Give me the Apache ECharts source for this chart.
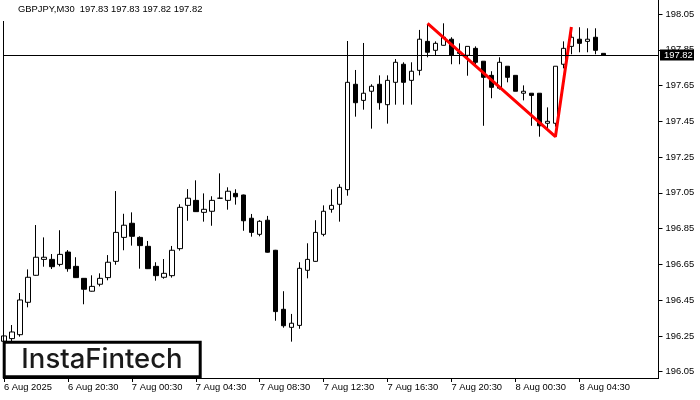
<!DOCTYPE html>
<html><head><meta charset="utf-8">
<script src="https://cdn.jsdelivr.net/npm/echarts@6/dist/echarts.min.js"></script>
<style>html,body{margin:0;padding:0;background:#fff}#c{width:700px;height:400px}</style>
</head><body><div id="c"></div>
<script>
const symbolTitle = 'GBPJPY,M30  197.83 197.83 197.82 197.82';
const tickLabels = ['6 Aug 2025','6 Aug 20:30','7 Aug 00:30','7 Aug 04:30','7 Aug 08:30','7 Aug 12:30','7 Aug 16:30','7 Aug 20:30','8 Aug 00:30','8 Aug 04:30'];
const yTicks = {min:196.05, max:198.05, step:0.2};
const lastPrice = 197.82;

const opens = [196.22,196.235,196.257,196.438,196.589,196.678,196.678,196.650,196.719,196.639,
196.572,196.500,196.539,196.576,196.667,196.801,196.880,196.801,196.751,196.639,
196.578,196.587,196.738,196.980,197.008,196.941,196.947,197.020,197.008,197.047,
197.038,196.908,196.818,196.897,196.729,196.399,196.298,196.309,196.617,196.667,
196.818,196.958,196.986,197.068,197.657,197.567,197.618,197.657,197.543,197.668,
197.769,197.679,197.735,197.897,197.847,197.875,197.909,197.836,197.819,197.858,
197.786,197.707,197.635,197.758,197.707,197.607,197.607,197.607,197.439,197.439,
197.769,197.869,197.909,197.897,197.920,197.83];
const highs = [196.373,196.311,196.490,196.622,196.870,196.801,196.708,196.841,196.730,196.690,
196.573,196.589,196.600,196.702,197.060,196.933,196.941,196.807,196.781,196.662,
196.680,196.753,196.986,197.071,197.120,197.047,197.031,197.159,197.081,197.070,
197.040,196.932,196.897,196.921,196.731,196.500,196.373,196.662,196.768,196.897,
196.980,197.070,197.098,197.899,197.737,197.888,197.657,197.707,197.707,197.798,
197.780,197.780,197.961,197.992,197.897,197.998,197.920,197.886,197.869,197.869,
197.786,197.730,197.808,197.758,197.707,197.651,197.607,197.607,197.528,197.758,
197.897,197.970,197.976,197.970,197.970,197.83];
const lows = [196.20,196.21,196.246,196.410,196.587,196.637,196.624,196.639,196.609,196.574,
196.427,196.498,196.527,196.561,196.648,196.729,196.755,196.626,196.624,196.559,
196.570,196.576,196.727,196.894,196.943,196.889,196.866,197.018,196.956,196.984,
196.838,196.805,196.807,196.716,196.335,196.296,196.218,196.290,196.572,196.665,
196.807,196.939,196.889,197.034,197.476,197.515,197.409,197.515,197.437,197.543,
197.543,197.543,197.707,197.808,197.819,197.874,197.769,197.769,197.705,197.769,
197.425,197.579,197.627,197.668,197.618,197.567,197.425,197.364,197.411,197.420,
197.746,197.825,197.836,197.836,197.825,197.82];
const closes = [196.25,196.272,196.451,196.578,196.690,196.690,196.637,196.706,196.626,196.576,
196.511,196.527,196.572,196.662,196.829,196.869,196.807,196.755,196.626,196.587,
196.600,196.729,196.969,197.020,196.945,196.958,197.008,197.020,197.059,197.028,
196.894,196.829,196.891,196.718,196.386,196.307,196.321,196.628,196.678,196.829,
196.947,196.980,197.081,197.668,197.554,197.607,197.646,197.554,197.679,197.780,
197.668,197.730,197.909,197.836,197.886,197.920,197.819,197.830,197.869,197.780,
197.696,197.640,197.780,197.696,197.618,197.618,197.595,197.425,197.450,197.758,
197.858,197.920,197.886,197.909,197.847,197.82];
// hand-drawn red pattern line: [bar index, price]
const patternLine = [[53,197.998],[69,197.364],[71,197.977]];

const nBars = opens.length;
const padBars = 6;
const days = ['6','7','8'];
const categories = [];
for (let i = 0; i < nBars + padBars; i++) {
  if (i >= nBars) { categories.push(''); continue; }
  const mins = (16*60+30) + i*30;
  const d = Math.floor(mins/1440), m = mins % 1440;
  const hh = String(Math.floor(m/60)).padStart(2,'0'), mm = String(m%60).padStart(2,'0');
  categories.push(days[d] + ' Aug ' + hh + ':' + mm);
}
const candleData = opens.map((o,i)=>[o, closes[i], lows[i], highs[i]]);

const FONT = '"Liberation Sans",Arial,sans-serif';
const FS = 9.4;
const chart = echarts.init(document.getElementById('c'), null, {renderer:'canvas'});
const showTick = (idx) => idx % 8 === 0 && idx/8 < tickLabels.length;
chart.setOption({
  animation:false,
  backgroundColor:'#ffffff',
  grid:{left:-0.7, top:14, width:656, height:357.7, containLabel:false},
  xAxis:{type:'category', data:categories, boundaryGap:true, offset:6.3,
    axisLine:{show:false},
    axisTick:{show:true, alignWithLabel:true, interval:(i)=>showTick(i), length:4, lineStyle:{color:'#000'}},
    axisLabel:{interval:(i)=>showTick(i), formatter:(v,i)=>tickLabels[i/8], align:'left', margin:5,
      color:'#000', fontSize:FS, fontFamily:FONT},
    splitLine:{show:false}},
  yAxis:{type:'value', position:'right', min:yTicks.min, max:yTicks.max, interval:yTicks.step, offset:3.2,
    axisLine:{show:false},
    axisTick:{show:true, length:4, lineStyle:{color:'#000'}},
    axisLabel:{formatter:(v)=>v.toFixed(2), margin:7, color:'#000', fontSize:FS, fontFamily:FONT},
    splitLine:{show:false}},
  series:[
    {type:'candlestick', data:candleData, barWidth:5,
     itemStyle:{color:'#ffffff', color0:'#000000', borderColor:'#000000', borderColor0:'#000000', borderWidth:1}},
    {type:'line', data:patternLine, symbol:'none', lineStyle:{color:'#ff0000', width:3}, z:5}
  ]
});
const py = Math.round(chart.convertToPixel({yAxisIndex:0}, lastPrice)) + 0.5;
chart.setOption({graphic:[
  {type:'text', left:18, top:5, z:100, style:{text:symbolTitle, font:FS+'px '+FONT, fill:'#000'}},
  {type:'line', z:100, shape:{x1:3.5,y1:21,x2:3.5,y2:378}, style:{stroke:'#000', lineWidth:1}},
  {type:'line', z:100, shape:{x1:658.5,y1:0,x2:658.5,y2:378.5}, style:{stroke:'#000', lineWidth:1}},
  {type:'line', z:100, shape:{x1:3,y1:378.5,x2:659,y2:378.5}, style:{stroke:'#000', lineWidth:1}},
  {type:'line', z:90, shape:{x1:3,y1:py,x2:659,y2:py}, style:{stroke:'#000', lineWidth:1}},
  {type:'rect', z:101, shape:{x:660, y:py-6, width:34, height:11}, style:{fill:'#000'}},
  {type:'text', z:102, x:664, y:py, style:{text:lastPrice.toFixed(2), font:FS+'px '+FONT, fill:'#fff', verticalAlign:'middle'}},
  {type:'rect', z:110, shape:{x:4.2, y:342.2, width:196, height:34.6}, style:{fill:'#fff', stroke:'#000', lineWidth:3}},
  {type:'text', z:111, x:102, y:360, style:{text:'InstaFintech', font:'500 27.5px Inter, sans-serif', fill:'#1a1a1a', align:'center', verticalAlign:'middle'}}
]});
</script></body></html>
